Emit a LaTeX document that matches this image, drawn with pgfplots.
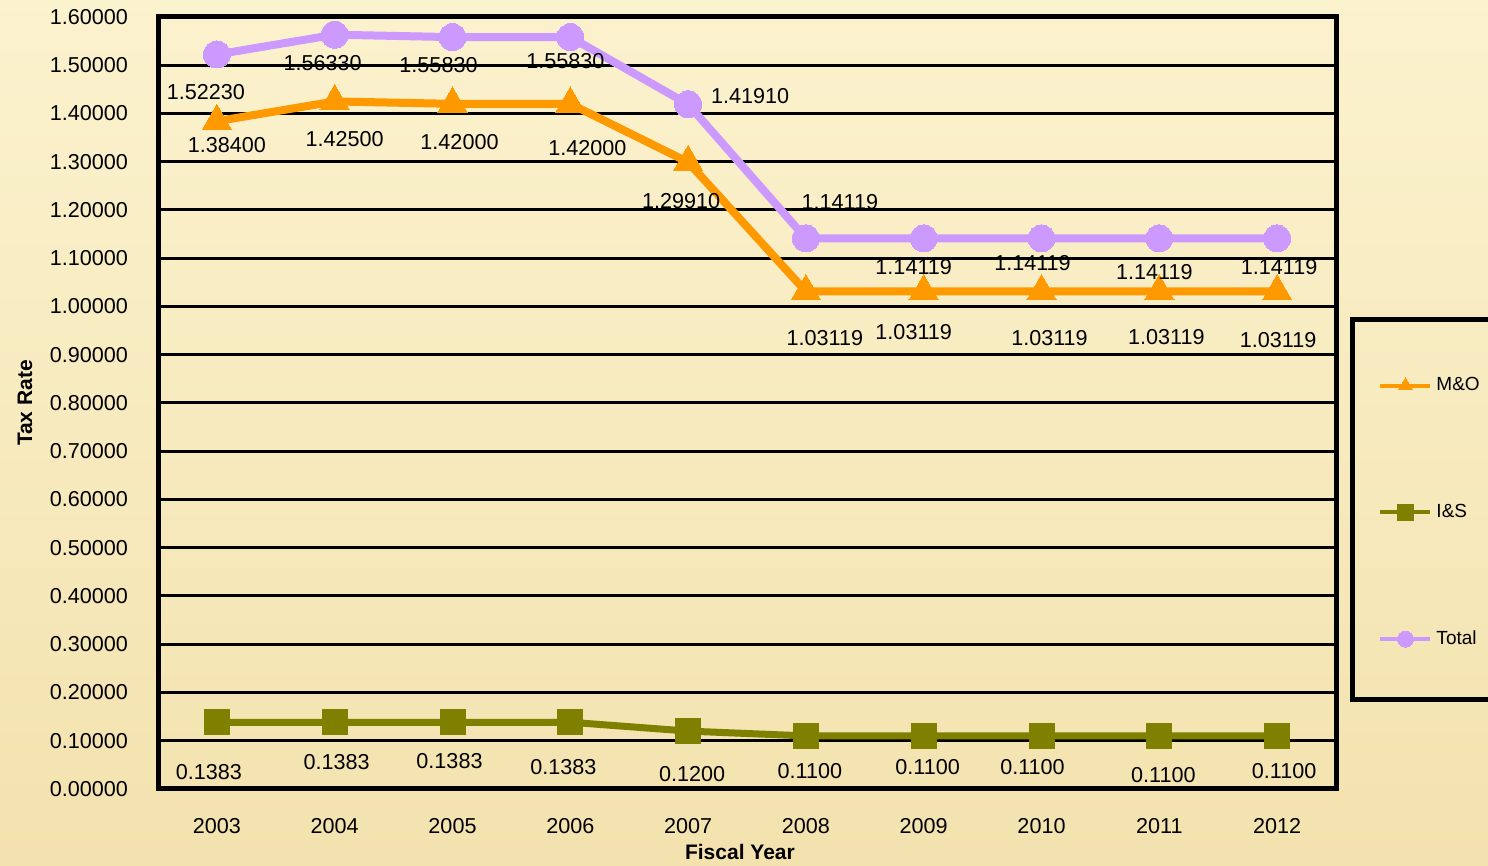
\documentclass[border=0pt]{standalone}
\usepackage{pgfplots}
\pgfplotsset{compat=1.18}
\usepackage{pgfplotstable}
\usepackage{fontspec}
\setmainfont{Liberation Sans}
\definecolor{totc}{HTML}{CC99FF}
\definecolor{moc}{HTML}{FF9900}
\definecolor{isc}{HTML}{808000}
\definecolor{bgtop}{RGB}{251,242,206}
\definecolor{bgbot}{RGB}{243,226,174}

\pgfplotstableread{
x y dx dy lab
0 1.38400 5 -12 1.38400
1 1.42500 5 -19 1.42500
2 1.42000 3.5 -19 1.42000
3 1.42000 8.5 -22 1.42000
4 1.29910 -3.5 -19.5 1.29910
5 1.03119 9.5 -23.5 1.03119
6 1.03119 -5 -20.5 1.03119
7 1.03119 4 -23.5 1.03119
8 1.03119 3.5 -23 1.03119
9 1.03119 0.5 -24.5 1.03119
}\mo

\pgfplotstableread{
x y dx dy lab
0 0.1383 -4 -25 0.1383
1 0.1383 1 -20 0.1383
2 0.1383 -1.5 -19.5 0.1383
3 0.1383 -3.5 -22.5 0.1383
4 0.1200 2 -21.5 0.1200
5 0.1100 2 -17.5 0.1100
6 0.1100 2 -15.5 0.1100
7 0.1100 -4.5 -15.5 0.1100
8 0.1100 2 -19.5 0.1100
9 0.1100 3.5 -17.5 0.1100
}\is

\pgfplotstableread{
x y dx dy lab
0 1.52230 -5.5 -19 1.52230
1 1.56330 -6 -14 1.56330
2 1.55830 -7 -14 1.55830
3 1.55830 -2.5 -12 1.55830
4 1.41910 31 4 1.41910
5 1.14119 17 18 1.14119
6 1.14119 -5 -14.5 1.14119
7 1.14119 -4.5 -12.5 1.14119
8 1.14119 -2.5 -17 1.14119
9 1.14119 1 -14.5 1.14119
}\tot

\begin{document}
\begin{tikzpicture}
\useasboundingbox (0,0) rectangle (744pt,433pt);
\clip (0,0) rectangle (744pt,433pt);
\shade[top color=bgtop, bottom color=bgbot] (0,0) rectangle (744pt,433pt);
\begin{axis}[
  at={(79pt,38.5pt)}, anchor=south west,
  scale only axis, width=589pt, height=386pt,
  xmin=-0.5, xmax=9.5, ymin=0, ymax=1.6,
  xtick={0,1,2,3,4,5,6,7,8,9},
  xticklabels={2003,2004,2005,2006,2007,2008,2009,2010,2011,2012},
  ytick={0,0.1,0.2,0.3,0.4,0.5,0.6,0.7,0.8,0.9,1.0,1.1,1.2,1.3,1.4,1.5,1.6},
  /pgf/number format/assume math mode=true,
  yticklabel style={/pgf/number format/fixed, /pgf/number format/fixed zerofill, /pgf/number format/precision=5, anchor=east, xshift=-11.5pt},
  ymajorgrids, major grid style={black, line width=1.5pt},
  axis line style={line width=2.5pt},
  major tick length=0pt,
  tick label style={font=\fontsize{10.8}{13}\selectfont, text=black},
  xticklabel style={anchor=center, yshift=-18.5pt},
  xlabel={\textbf{Fiscal Year}},
  ylabel={\textbf{Tax Rate}},
  label style={font=\fontsize{10.5}{12}\selectfont},
  xlabel style={at={(axis description cs:0.494,-0.0816)}, anchor=center},
  ylabel style={at={(axis description cs:-0.1129,0.5)}, anchor=center, rotate=0},
  clip=false,
  legend style={at={(axis description cs:1.0357,0.3582)}, anchor=west, draw=none, fill=none,
    inner sep=0pt, row sep=51.2pt, font=\fontsize{9.5}{11}\selectfont},
  legend cell align=left,
  legend image code/.code={\draw[#1, line width=2pt, mark size=4pt, mark repeat=2, mark phase=2]
     plot coordinates {(0pt,0pt) (12.5pt,0pt) (25pt,0pt)};},
  nodes near coords,
  point meta=explicit symbolic,
  visualization depends on={\thisrow{dx} \as \dx},
  visualization depends on={\thisrow{dy} \as \dy},
  every node near coord/.append style={anchor=center, xshift=\dx pt, yshift=\dy pt,
     text=black, font=\fontsize{10.8}{13}\selectfont, inner sep=0pt},
]
\addplot[moc, line width=4pt, mark=triangle*, mark size=8.5pt, mark options={solid, fill=moc, draw=moc, line width=0pt}]
  table[x=x, y=y, meta=lab] {\mo};
\addlegendentry{M\&O}
\addplot[isc, line width=3.5pt, mark=square*, mark size=6.25pt, mark options={solid, fill=isc, draw=isc, line width=0pt}]
  table[x=x, y=y, meta=lab] {\is};
\addlegendentry{I\&S}
\addplot[totc, line width=4pt, mark=*, mark size=6.75pt, mark options={solid, fill=totc, draw=totc, line width=0pt}]
  table[x=x, y=y, meta=lab] {\tot};
\addlegendentry{Total}
\end{axis}
\draw[black, line width=2.5pt] (676pt,83pt) rectangle (780pt,273pt);
\end{tikzpicture}
\end{document}
